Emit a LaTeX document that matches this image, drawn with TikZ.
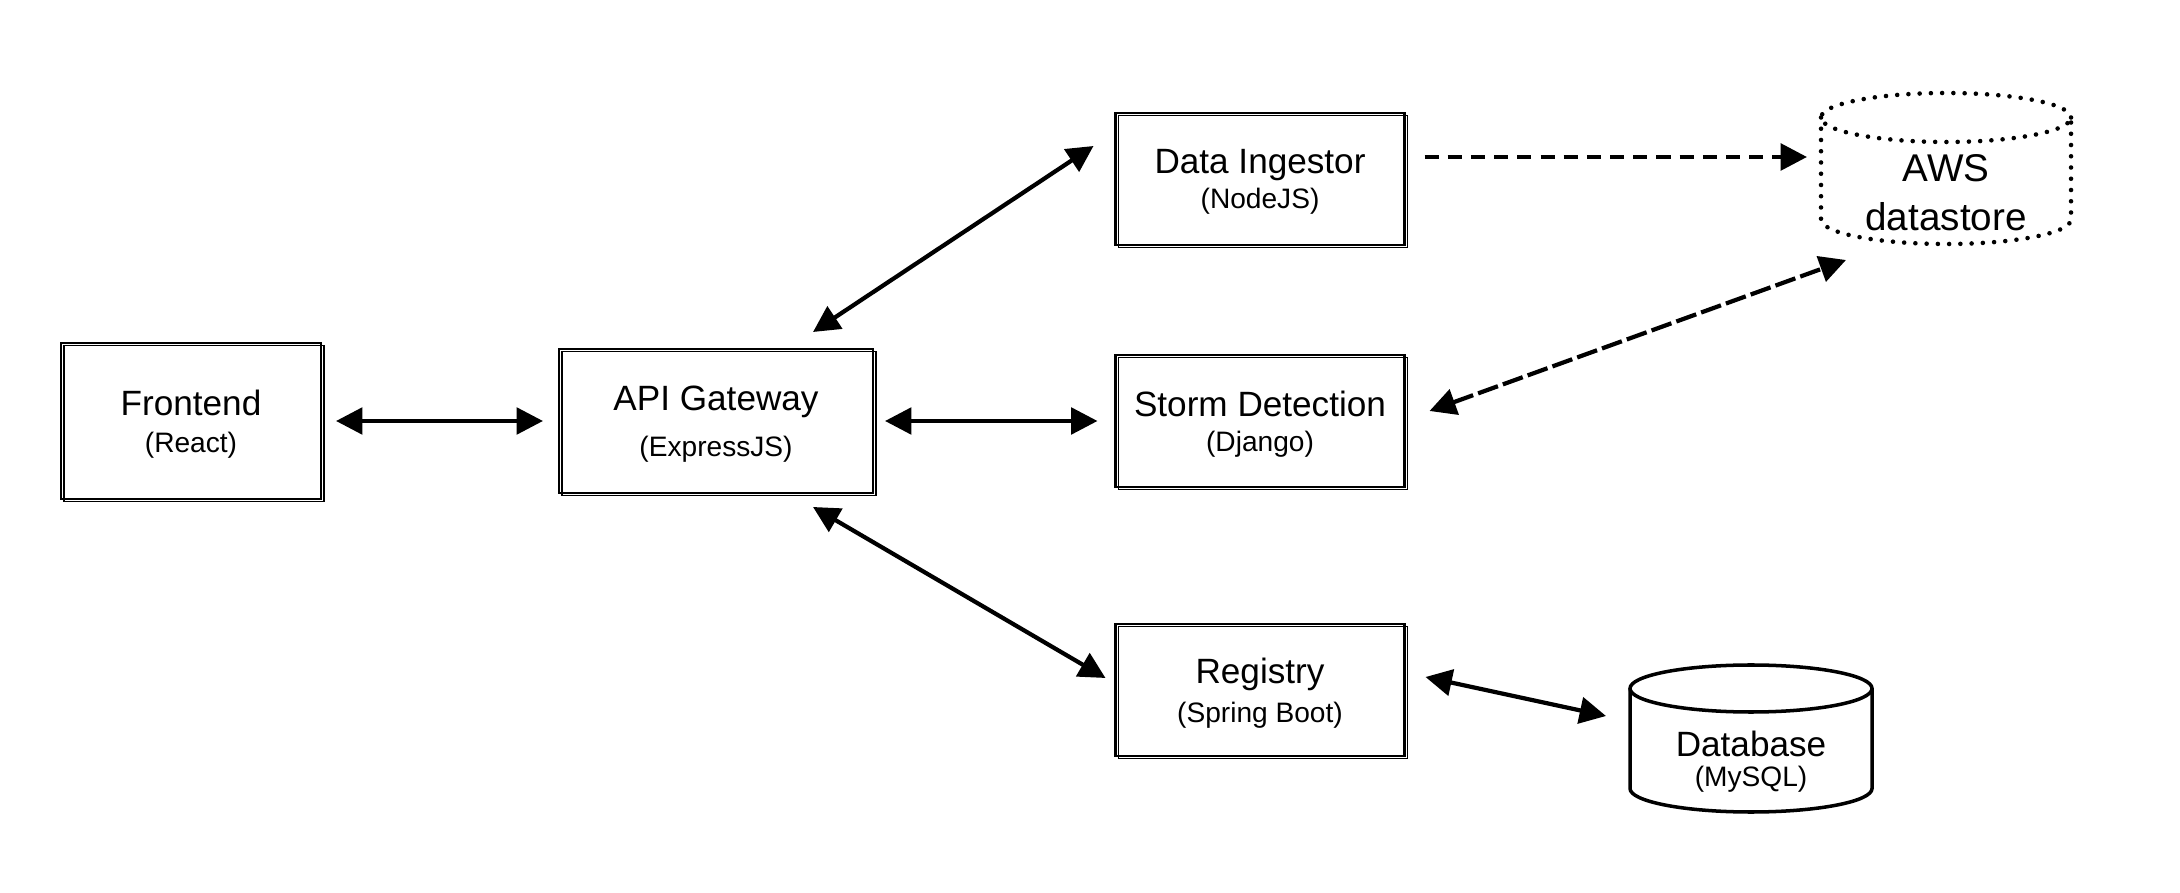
\documentclass[tikz,border=0pt]{standalone}
\usepackage{fontspec}
\setmainfont{Liberation Sans}
\usetikzlibrary{arrows.meta}
\newcommand{\subtxt}[1]{{\fontsize{8}{9}\selectfont #1}}
\tikzset{
  svc/.style={draw, line width=0.8pt, align=center, outer sep=0pt,
    font=\fontsize{10}{10.5}\selectfont, text depth=-0.5pt,
    postaction={draw, line width=0.4pt, transform canvas={shift={(0.8pt,-0.7pt)}}}},
  drum/.style={outer sep=0pt, inner sep=0pt, align=center},
  link/.style={<->, line width=1.2pt}
}
\begin{document}
\begin{tikzpicture}[>={Triangle[length=7.5pt,width=7.5pt]}]
  \useasboundingbox (0,0) rectangle (21.8,8.92);
  % services
  \node[svc, minimum width=2.60cm, minimum height=1.56cm] (fe) at (1.91,4.71) {Frontend\\\subtxt{(React)}};
  \node[svc, minimum width=3.14cm, minimum height=1.44cm] (api) at (7.16,4.71) {API Gateway\\[2.7pt]\subtxt{(ExpressJS)}};
  \node[svc, minimum width=2.89cm, minimum height=1.32cm] (ing) at (12.60,7.13) {Data Ingestor\\[-0.5pt]\subtxt{(NodeJS)}};
  \node[svc, minimum width=2.89cm, minimum height=1.32cm] (storm) at (12.60,4.71) {Storm Detection\\[-0.5pt]\subtxt{(Django)}};
  \node[svc, minimum width=2.89cm, minimum height=1.32cm] (reg) at (12.60,2.02) {Registry\\[0.7pt]\subtxt{(Spring Boot)}};
  % stores
  \node[drum, minimum width=2.50cm, minimum height=1.02cm, font=\fontsize{11}{14}\selectfont] (aws) at (19.46,6.99) {AWS\\datastore};
  \node[drum, minimum width=2.42cm, minimum height=1.00cm, font=\fontsize{10}{10}\selectfont] (db) at (17.51,1.30) {Database\\[-1.5pt]\subtxt{(MySQL)}};
  \begin{scope}[line width=1.3pt, line cap=round, dash pattern=on 0pt off 3.2pt]
    \draw ([yshift=0.245cm]aws.north) ellipse (1.25 and 0.245);
    \draw ([yshift=0.245cm]aws.north west) -- ([yshift=0.245cm]aws.south west) arc (180:360:1.25 and 0.245) -- ([yshift=0.245cm]aws.north east);
  \end{scope}
  \draw[line width=1pt] ([yshift=0.235cm]db.north) ellipse (1.21 and 0.235);
  \draw[line width=1pt] ([yshift=0.235cm]db.north west) -- ([yshift=0.235cm]db.south west) arc (180:360:1.21 and 0.235) -- ([yshift=0.235cm]db.north east);
  % links
  \draw[link, shorten <=0.15cm, shorten >=0.16cm] (fe) -- (api);
  \draw[link, shorten <=0.12cm, shorten >=0.18cm] (api) -- (storm);
  \draw[link] ([xshift=0.97cm,yshift=0.17cm]api.north) -- ([xshift=-0.22cm,yshift=0.33cm]ing.west);
  \draw[link] ([xshift=0.97cm,yshift=-0.14cm]api.south) -- ([xshift=-0.10cm,yshift=0.12cm]reg.west);
  \draw[link] ([xshift=0.21cm,yshift=0.13cm]reg.east) -- ([xshift=-0.24cm,yshift=0.46cm]db.west);
  \draw[link, dash pattern=on 6pt off 1.5pt] ([xshift=0.25cm,yshift=0.10cm]storm.east) -- ([xshift=-1.00cm,yshift=-0.16cm]aws.south);
  \draw[->, line width=1.3pt, dash pattern=on 4pt off 2.6pt] ([xshift=0.20cm,yshift=0.22cm]ing.east) -- ([xshift=-0.14cm,yshift=0.36cm]aws.west);
\end{tikzpicture}
\end{document}
